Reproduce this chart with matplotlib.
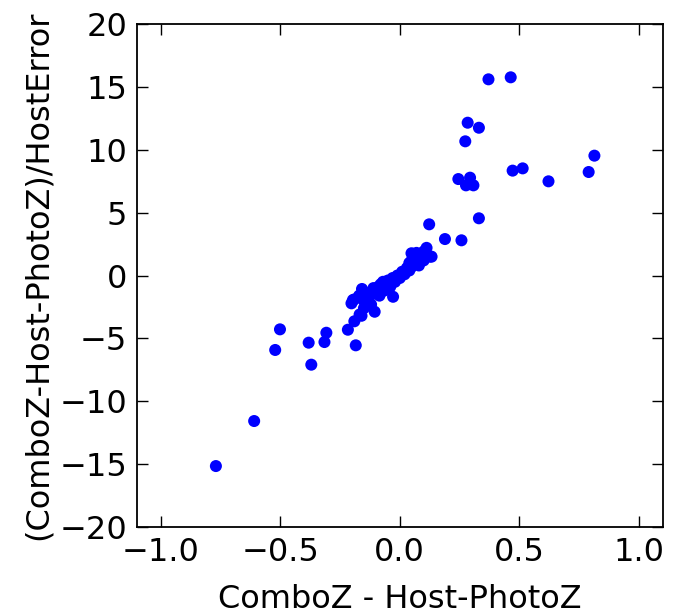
import matplotlib
matplotlib.use("Agg")
import matplotlib.pyplot as plt

# outlying points
x_out = [0.371, 0.464, 0.284, 0.331, 0.274, 0.814, 0.790, 0.472, 0.514, 0.622,
         0.245, 0.294, 0.277, 0.308, 0.331, 0.123, 0.189, 0.258,
         -0.501, -0.521, -0.381, -0.370, -0.307, -0.315, -0.217, -0.184,
         -0.190, -0.160, -0.769, -0.609]
y_out = [15.6, 15.76, 12.15, 11.75, 10.67, 9.53, 8.23, 8.34, 8.52, 7.49,
         7.67, 7.78, 7.17, 7.17, 4.55, 4.07, 2.9, 2.8,
         -4.28, -5.92, -5.34, -7.09, -4.55, -5.29, -4.31, -5.55,
         -3.64, -3.2, -15.15, -11.57]

# central cluster
x_core = [-0.196, -0.202, -0.19, -0.17, -0.158, -0.15, -0.14, -0.13, -0.12, -0.11,
          -0.105, -0.10, -0.09, -0.085, -0.08, -0.07, -0.065, -0.06, -0.05, -0.04,
          -0.028, -0.03, -0.02, -0.01, 0.0, 0.01, 0.02, 0.03, 0.04, 0.04,
          0.05, 0.05, 0.06, 0.06, 0.07, 0.07, 0.08, 0.09, 0.10, 0.112,
          0.126, 0.10, 0.08, -0.15, -0.12, -0.168, 0.049, 0.133]
y_core = [-1.95, -2.21, -1.9, -1.6, -1.07, -2.0, -1.5, -1.8, -1.3, -1.0,
          -2.88, -1.4, -0.9, -1.6, -0.7, -0.5, -1.2, -0.8, -0.4, -0.9,
          -1.69, -0.2, -0.5, 0.0, -0.2, 0.3, 0.1, 0.6, 0.4, 1.0,
          1.2, 0.7, 1.5, 0.9, 1.8, 1.1, 1.3, 1.6, 1.9, 2.2,
          1.5, 1.2, 0.8, -2.6, -2.3, -3.1, 1.77, 1.5]

x_vals = x_out + x_core
y_vals = y_out + y_core

x_ticks = [-1.0, -0.5, 0.0, 0.5, 1.0]
y_ticks = [-20, -15, -10, -5, 0, 5, 10, 15, 20]

fig = plt.figure(figsize=(6.77, 6.15), dpi=100)
ax = fig.add_axes([0.202, 0.143, 0.777, 0.818])
ax.scatter(x_vals, y_vals, s=75, c="blue", edgecolors="none", zorder=3)
ax.set_xlim(-1.1, 1.1)
ax.set_ylim(-20, 20)
ax.set_xticks(x_ticks)
ax.set_yticks(y_ticks)
ax.tick_params(direction="in", top=True, right=True, length=8, width=1,
               labelsize=23, pad=7)
for sp in ax.spines.values():
    sp.set_linewidth(1.3)
ax.set_xlabel("ComboZ - Host-PhotoZ", fontsize=23, labelpad=12)
ax.set_ylabel("(ComboZ-Host-PhotoZ)/HostError", fontsize=23, labelpad=4)
fig.savefig("out.png", dpi=100)
